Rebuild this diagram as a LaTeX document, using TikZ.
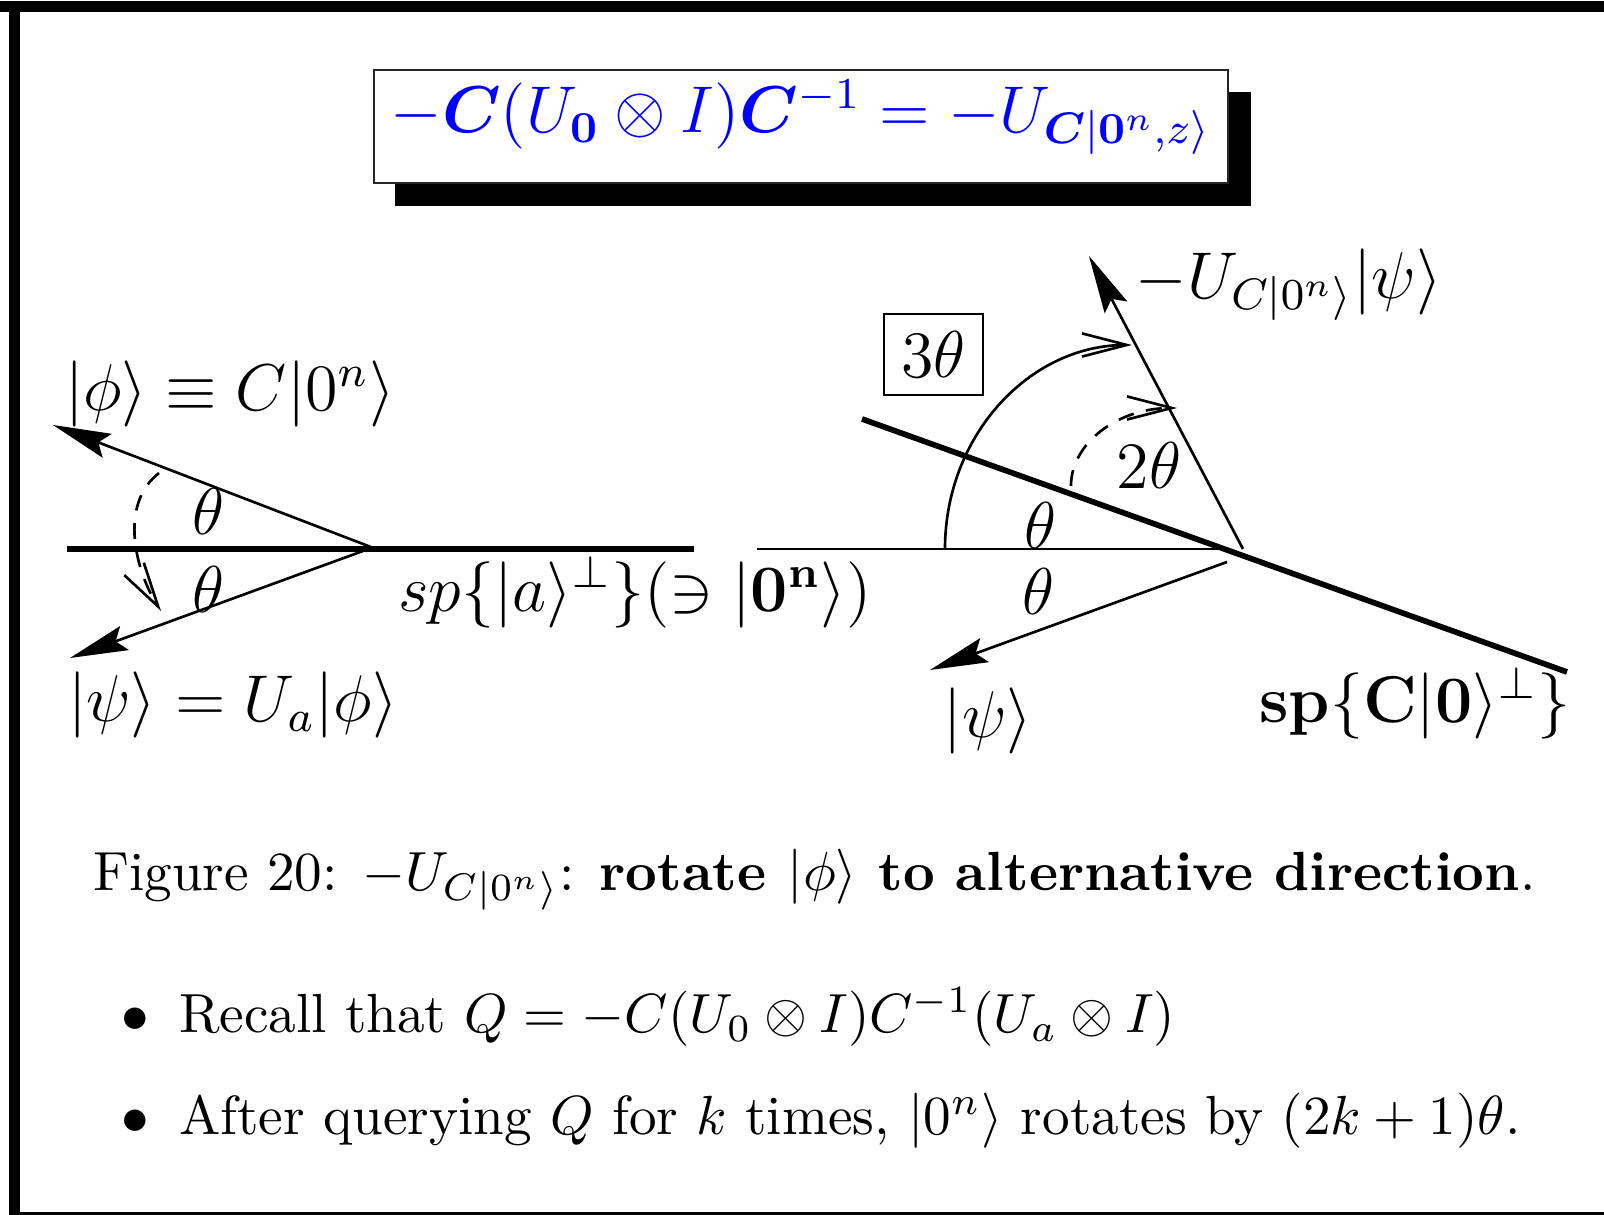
\documentclass[tikz,border=0pt]{standalone}
\usepackage{amsmath,bm}
\usetikzlibrary{arrows.meta}
\definecolor{titleblue}{RGB}{0,0,255}
\tikzset{
  vec/.style={line width=0.48pt, -{Stealth[length=10.5pt,width=4.6pt,inset=1.7pt]}},
  thickln/.style={line width=1.03pt},
  thinln/.style={line width=0.48pt},
  rotarc/.style={line width=0.48pt, -{Straight Barb[length=8.1pt,width=4.2pt]}},
  dasharc/.style={rotarc, dash pattern=on 2.9pt off 2.3pt},
  lbl/.style={inner sep=0pt, font=\large},
  txt/.style={inner sep=0pt, font=\normalsize},
}
\begin{document}
\begin{tikzpicture}[x=0.1813pt,y=-0.1813pt]
\useasboundingbox (0,0) rectangle (1604,1215);
% page frame
\fill[black] (0,1) rectangle (1604,12);
\fill[black] (9,1) rectangle (20,1215);
\fill[black] (9,1212) rectangle (1604,1215);
% title box with shadow
\fill[black] (395,92) rectangle (1251,206);
\filldraw[fill=white, draw=black!85, line width=0.4pt] (374,70) rectangle (1228,183);
\node[inner sep=0pt, font=\fontsize{11.5}{14}\selectfont, anchor=base, text=titleblue] (title) at (801,133)
  {$-\bm{C}(U_{\mathbf{0}}\otimes I)\bm{C}^{-1} = -U_{\bm{C}|\mathbf{0}^n,z\rangle}$};

% ---------- left diagram ----------
\coordinate (Lv) at (376,549);
\coordinate (Lv2) at (363,551);
\coordinate (Lphi) at (53,425);
\coordinate (Lpsi) at (70,658);
\coordinate (La) at (67,549);
\coordinate (Lb) at (694,549);
\draw[thickln] (La) -- (Lb);
\draw[vec] (Lv) -- (Lphi);
\draw[vec] (Lv2) -- (Lpsi);
\coordinate (Lds) at (159,473);
\coordinate (Lde) at (161,611);
\draw[dasharc] (Lds) .. controls (118,505) and (136,572) .. (Lde);
\node[lbl] (th1) at (208,512) {$\theta$};
\node[lbl] (th2) at (208,590) {$\theta$};
\node[lbl, anchor=base] (phi) at (230,411) {$|\phi\rangle \equiv C|0^n\rangle$};
\node[lbl, anchor=base] (psi) at (233,722) {$|\psi\rangle = U_a|\phi\rangle$};
\node[lbl, anchor=base] (spa) at (635,612) {$sp\{|a\rangle^{\perp}\}(\ni|\mathbf{0^n}\rangle)$};

% ---------- right diagram ----------
\coordinate (Rh1) at (757,549);
\coordinate (Rh2) at (1224,549);
\draw[thinln] (Rh1) -- (Rh2);
\coordinate (Rt1) at (862,419);
\coordinate (Rt2) at (1567,672);
\draw[thickln] (Rt1) -- (Rt2);
\coordinate (Ru0) at (1243,549);
\coordinate (Ru1) at (1089,256);
\draw[vec] (Ru0) -- (Ru1);
\coordinate (Rd0) at (1227,562);
\coordinate (Rd1) at (930,670);
\draw[vec] (Rd0) -- (Rd1);
\coordinate (A3s) at (945,549);
\coordinate (A3e) at (1132,345);
\draw[rotarc] (A3s) .. controls (945,436) and (1029,345) .. (A3e);
\coordinate (A2s) at (1071,486);
\coordinate (A2e) at (1177,408);
\draw[dasharc] (A2s) .. controls (1071,443) and (1118,408) .. (A2e);
\node[lbl, draw, line width=0.4pt, minimum width=17.95pt, minimum height=14.7pt] (box3) at (933.5,354.5) {$3\theta$};
\node[lbl] (th3) at (1040,526) {$\theta$};
\node[lbl] (th4) at (1038,592) {$\theta$};
\node[lbl] (th2b) at (1149,466) {$2\theta$};
\node[lbl, anchor=base] (mU) at (1289,299) {$-U_{C|0^n\rangle}|\psi\rangle$};
\node[lbl, anchor=base] (psi2) at (988,738) {$|\psi\rangle$};
\node[lbl, anchor=base] (spc) at (1415,723) {$\mathbf{sp}\{\mathbf{C}|\mathbf{0}\rangle^{\perp}\}$};

% ---------- caption and bullets ----------
\node[txt, anchor=base west] (cap) at (92,891)
  {Figure 20: $-U_{C|0^n\rangle}$: \textbf{rotate $|\phi\rangle$ to alternative direction}.};
\node[txt] (b1) at (135,1020) {$\bullet$};
\node[txt, anchor=base west] (t1) at (178,1033)
  {Recall that $Q=-C(U_0\otimes I)C^{-1}(U_a\otimes I)$};
\node[txt] (b2) at (135,1122) {$\bullet$};
\node[txt, anchor=base west] (t2) at (178,1135)
  {After querying $Q$ for $k$ times, $|0^n\rangle$ rotates by $(2k+1)\theta$.};
\end{tikzpicture}
\end{document}
